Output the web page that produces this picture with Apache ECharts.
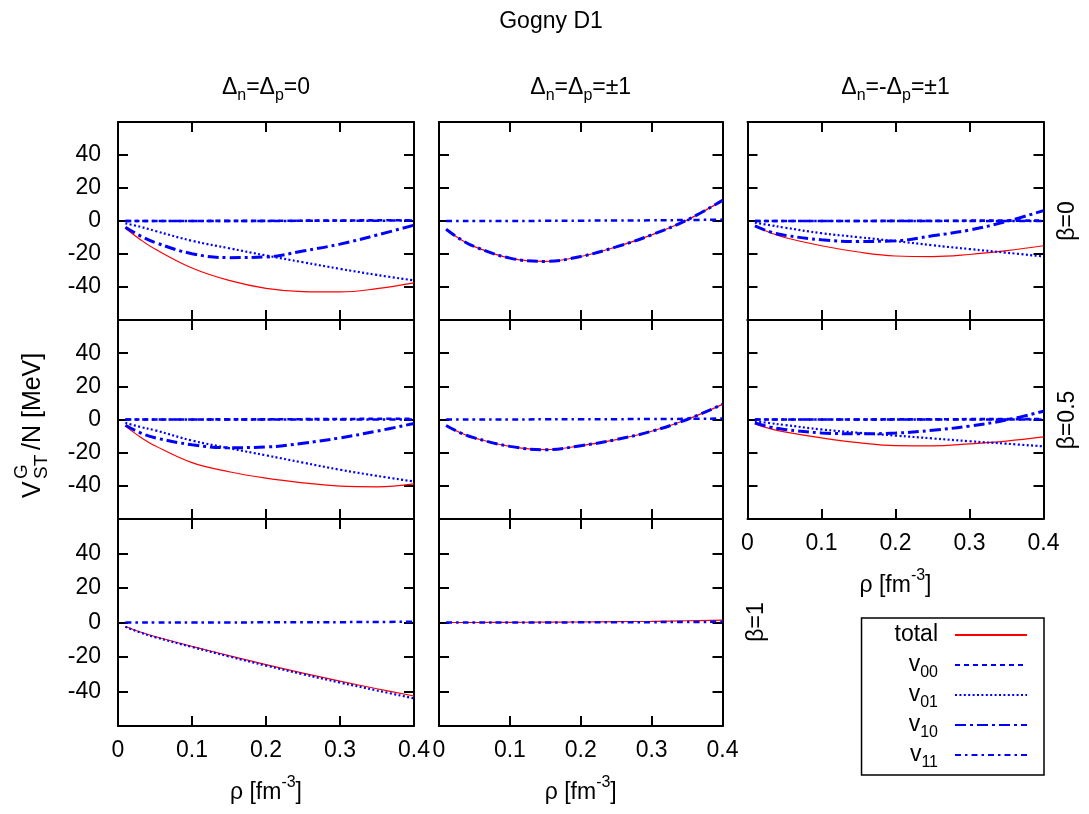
<!DOCTYPE html>
<html><head><meta charset="utf-8">
<script src="https://cdn.jsdelivr.net/npm/echarts@6/dist/echarts.min.js"></script>
<style>html,body{margin:0;padding:0;background:#fff}#c{width:1089px;height:814px}</style>
</head><body><div id="c"></div>
<script>
const FONT = 'Liberation Sans';
// density grid (fm^-3)
const rho = [0.01, 0.03, 0.05, 0.1, 0.15, 0.2, 0.25, 0.3, 0.35, 0.4];
const seriesNames = ['total', 'v00', 'v01', 'v10', 'v11'];
const xTickValues = [0, 0.1, 0.2, 0.3, 0.4];
const xTickLabels = ['0', '0.1', '0.2', '0.3', '0.4'];
const yTickValues = [-40, -20, 0, 20, 40];
const yTickLabels = ['-40', '-20', '0', '20', '40'];
const colTitles = ['Δn=Δp=0', 'Δn=Δp=±1', 'Δn=-Δp=±1'];
const rowTitles = ['β=0', 'β=0.5', 'β=1'];
const NONE = null; // channel absent in this panel

// beta = 0, Δn=Δp=0
const b0_d0_total = [-4.4, -11.2, -17, -28.5, -36, -40.8, -42.8, -43, -41, -37.5];
const b0_d0_v00   = [0, 0, 0, 0, 0.1, 0.1, 0.2, 0.3, 0.4, 0.5];
const b0_d0_v01   = [-1.4, -3.5, -6, -12, -16.5, -20.9, -25, -29, -32.7, -36];
const b0_d0_v10   = [-3.8, -9, -13, -19.8, -22.2, -21.8, -18.2, -14, -8.5, -2.5];
const b0_d0_v11   = [0, 0, 0, 0, 0, 0, 0.1, 0.1, 0.2, 0.3];
// beta = 0, Δn=Δp=±1
const b0_dpp_total = [-5, -11, -15.5, -22.5, -24.5, -21.5, -15.7, -8.4, 0.6, 12.5];
const b0_dpp_v00   = [NONE, NONE, NONE, NONE, NONE, NONE, NONE, NONE, NONE, NONE];
const b0_dpp_v01   = [NONE, NONE, NONE, NONE, NONE, NONE, NONE, NONE, NONE, NONE];
const b0_dpp_v10   = [-5, -11, -15.5, -22.5, -24.5, -21.5, -15.7, -8.4, 0.6, 12.5];
const b0_dpp_v11   = [0, 0, 0, 0, 0.1, 0.2, 0.3, 0.4, 0.6, 0.8];
// beta = 0, Δn=-Δp=±1
const b0_dnp_total = [-3, -7, -10, -15, -18.8, -21.2, -21.6, -20.3, -18, -15];
const b0_dnp_v00   = [0, 0, 0, 0, 0, 0.1, 0.1, 0.2, 0.2, 0.3];
const b0_dnp_v01   = [-1, -2.5, -4, -7.4, -9.8, -12.2, -14.7, -17, -19.2, -21.5];
const b0_dnp_v10   = [-3, -6.5, -8.6, -11.4, -12.4, -12, -9, -5.5, -0.3, 6.3];
const b0_dnp_v11   = [0, 0, 0, 0, 0, 0, 0, 0, 0, 0];
// beta = 0.5, Δn=Δp=0
const b05_d0_total = [-4, -10.5, -15.8, -26, -31.5, -35.4, -38.2, -40.2, -40.6, -38.8];
const b05_d0_v00   = [0, 0, 0, 0, 0.1, 0.1, 0.2, 0.3, 0.4, 0.5];
const b05_d0_v01   = [-2, -4.5, -6.5, -12.7, -17.3, -21.6, -26, -30.3, -34, -37.4];
const b05_d0_v10   = [-3.5, -8, -11, -15.2, -17, -16.6, -14.3, -11.1, -7, -2.4];
const b05_d0_v11   = [0, 0, 0, 0, 0, 0, 0, 0, 0, 0];
// beta = 0.5, Δn=Δp=±1
const b05_dpp_total = [-3.6, -8, -11.1, -16.2, -18.2, -15.8, -12.1, -7.1, 0, 9.1];
const b05_dpp_v00   = [NONE, NONE, NONE, NONE, NONE, NONE, NONE, NONE, NONE, NONE];
const b05_dpp_v01   = [NONE, NONE, NONE, NONE, NONE, NONE, NONE, NONE, NONE, NONE];
const b05_dpp_v10   = [-3.6, -8, -11.1, -16.2, -18.2, -15.8, -12.1, -7.1, 0, 9.1];
const b05_dpp_v11   = [0, 0, 0, 0, 0.1, 0.1, 0.2, 0.3, 0.4, 0.6];
// beta = 0.5, Δn=-Δp=±1
const b05_dnp_total = [-2.6, -5.5, -7.5, -11.1, -14, -15.8, -15.9, -14.7, -13, -10.5];
const b05_dnp_v00   = [0, 0, 0, 0, 0, 0.1, 0.1, 0.2, 0.2, 0.3];
const b05_dnp_v01   = [-1, -2.2, -3.3, -6, -8, -9.7, -11.4, -13.1, -14.6, -16.2];
const b05_dnp_v10   = [-2, -4.5, -6, -8.1, -8.6, -8.2, -6.5, -4, -0.3, 5];
const b05_dnp_v11   = [0, 0, 0, 0, 0, 0, 0, 0, 0, 0];
// beta = 1, Δn=Δp=0
const b1_d0_total = [-2.3, -5.5, -8.1, -13.8, -19.2, -24.4, -29.3, -34, -38.4, -42.6];
const b1_d0_v00   = [NONE, NONE, NONE, NONE, NONE, NONE, NONE, NONE, NONE, NONE];
const b1_d0_v01   = [-2.5, -5.8, -8.5, -14.2, -19.7, -25, -30, -34.8, -39.4, -44];
const b1_d0_v10   = [NONE, NONE, NONE, NONE, NONE, NONE, NONE, NONE, NONE, NONE];
const b1_d0_v11   = [0, 0, 0, 0, 0, 0.1, 0.1, 0.2, 0.3, 0.5];
// beta = 1, Δn=Δp=±1
const b1_dpp_total = [0, 0, 0, 0.1, 0.2, 0.3, 0.5, 0.7, 1.0, 1.4];
const b1_dpp_v00   = [NONE, NONE, NONE, NONE, NONE, NONE, NONE, NONE, NONE, NONE];
const b1_dpp_v01   = [NONE, NONE, NONE, NONE, NONE, NONE, NONE, NONE, NONE, NONE];
const b1_dpp_v10   = [NONE, NONE, NONE, NONE, NONE, NONE, NONE, NONE, NONE, NONE];
const b1_dpp_v11   = [0, 0, 0, 0, 0, 0.1, 0.1, 0.2, 0.3, 0.4];

const panels = [
  {row: 0, col: 0, d: [b0_d0_total, b0_d0_v00, b0_d0_v01, b0_d0_v10, b0_d0_v11]},
  {row: 0, col: 1, d: [b0_dpp_total, b0_dpp_v00, b0_dpp_v01, b0_dpp_v10, b0_dpp_v11]},
  {row: 0, col: 2, d: [b0_dnp_total, b0_dnp_v00, b0_dnp_v01, b0_dnp_v10, b0_dnp_v11]},
  {row: 1, col: 0, d: [b05_d0_total, b05_d0_v00, b05_d0_v01, b05_d0_v10, b05_d0_v11]},
  {row: 1, col: 1, d: [b05_dpp_total, b05_dpp_v00, b05_dpp_v01, b05_dpp_v10, b05_dpp_v11]},
  {row: 1, col: 2, d: [b05_dnp_total, b05_dnp_v00, b05_dnp_v01, b05_dnp_v10, b05_dnp_v11]},
  {row: 2, col: 0, d: [b1_d0_total, b1_d0_v00, b1_d0_v01, b1_d0_v10, b1_d0_v11]},
  {row: 2, col: 1, d: [b1_dpp_total, b1_dpp_v00, b1_dpp_v01, b1_dpp_v10, b1_dpp_v11]}
];

// layout
const colLeft = [118, 439, 747.5], colWidth = [296, 283.5, 296];
const rowTop = [122, 320, 519], rowHeight = [198, 199, 207];
const lineStyles = {
  total: {color: '#ff0000', width: 1.2, type: 'solid'},
  v00: {color: '#0000ff', width: 2.6, type: [5, 4]},
  v01: {color: '#0000ff', width: 2.2, type: [2, 2.4]},
  v10: {color: '#0000ff', width: 3, type: [11, 4, 3, 4]},
  v11: {color: '#0000ff', width: 2.5, type: [6, 4, 2.5, 4]}
};

const grids = [], xAxes = [], yAxes = [], series = [];
const axLine = {show: true, onZero: false, lineStyle: {color: '#000', width: 2}};
const axTick = {show: true, inside: true, length: 10, lineStyle: {color: '#000', width: 2}};
const lblStyle = {color: '#000', fontFamily: FONT, fontSize: 23};

panels.forEach((p, i) => {
  grids.push({left: colLeft[p.col], top: rowTop[p.row], width: colWidth[p.col], height: rowHeight[p.row], containLabel: false});
  const showX = (p.row === 2) || (p.row === 1 && p.col === 2);
  const showY = p.col === 0;
  const xBase = {type: 'value', gridIndex: i, min: 0, max: 0.4, interval: 0.1, splitLine: {show: false},
    axisLine: axLine, axisTick: axTick};
  xAxes.push(Object.assign({}, xBase, {position: 'bottom',
    axisLabel: Object.assign({show: showX, margin: 13, showMinLabel: true, showMaxLabel: true,
      formatter: v => { const k = xTickValues.findIndex(t => Math.abs(t - v) < 1e-9); return k >= 0 ? xTickLabels[k] : ''; }}, lblStyle)}));
  xAxes.push(Object.assign({}, xBase, {position: 'top', axisLabel: {show: false}}));
  const yBase = {type: 'value', gridIndex: i, min: -60, max: 60, interval: 20, splitLine: {show: false},
    axisLine: axLine, axisTick: axTick};
  yAxes.push(Object.assign({}, yBase, {position: 'left',
    axisLabel: Object.assign({show: showY, margin: 17,
      formatter: v => { const k = yTickValues.indexOf(Math.round(v)); return k >= 0 ? yTickLabels[k] : ''; }}, lblStyle)}));
  yAxes.push(Object.assign({}, yBase, {position: 'right', axisLabel: {show: false}}));
  seriesNames.forEach((name, s) => {
    series.push({
      name, type: 'line', xAxisIndex: 2 * i, yAxisIndex: 2 * i,
      data: rho.map((r, k) => [r, p.d[s][k]]),
      smooth: 0.4, symbol: 'none', showSymbol: false, animation: false, connectNulls: false,
      lineStyle: lineStyles[name], itemStyle: {color: lineStyles[name].color},
      emphasis: {disabled: true}, z: 2 + s
    });
  });
});

const subRich = {
  m: {fontFamily: FONT, fontSize: 23, fill: '#000', lineHeight: 24, padding: [0, 0, 6, 0], verticalAlign: 'top'},
  s: {fontFamily: FONT, fontSize: 16, fill: '#000', lineHeight: 16, padding: [12, 0, 0, 0], verticalAlign: 'top'}
};
const supRich = {
  m: {fontFamily: FONT, fontSize: 23, fill: '#000', lineHeight: 24, padding: [6, 0, 0, 0], verticalAlign: 'top'},
  u: {fontFamily: FONT, fontSize: 16, fill: '#000', lineHeight: 16, padding: [0, 0, 0, 0], verticalAlign: 'top'}
};
function colTitleRich(t) {
  const parts = t.split(/(Δ[np])/).filter(x => x.length);
  return parts.map(x => x[0] === 'Δ' && x.length === 2 ? '{m|Δ}{s|' + x[1] + '}' : '{m|' + x + '}').join('');
}
const graphics = [];
graphics.push({type: 'text', x: 551, y: 22, style: {text: 'Gogny D1', fontFamily: FONT, fontSize: 23, fill: '#000', align: 'center', verticalAlign: 'middle'}});
colTitles.forEach((t, c) => {
  graphics.push({type: 'text', x: colLeft[c] + colWidth[c] / 2, y: 88,
    style: {text: colTitleRich(t), rich: subRich, fontFamily: FONT, fontSize: 23, fill: '#000', align: 'center', verticalAlign: 'middle'}});
});
// row labels (rotated)
[[1068, 221, 0], [1068, 420, 1], [757, 622, 2]].forEach(([x, y, r]) => {
  graphics.push({type: 'text', x, y, rotation: Math.PI / 2,
    style: {text: rowTitles[r], fontFamily: FONT, fontSize: 23, fill: '#000', align: 'center', verticalAlign: 'middle'}});
});
// x axis titles
[[266, 726 + 61], [580.75, 726 + 61], [895.5, 519 + 61]].forEach(([x, y]) => {
  graphics.push({type: 'text', x, y,
    style: {text: '{m|ρ [fm}{u|-3}{m|]}', rich: supRich, fontFamily: FONT, fontSize: 23, fill: '#000', align: 'center', verticalAlign: 'middle'}});
});
// y axis title (rotated)
graphics.push({type: 'group', x: 33, y: 498, rotation: Math.PI / 2, children: [
  {type: 'text', x: 0, y: 0, style: {text: 'V', fontFamily: FONT, fontSize: 25, fill: '#000', align: 'left', verticalAlign: 'middle'}},
  {type: 'text', x: 19, y: -11, style: {text: 'G', fontFamily: FONT, fontSize: 19, fill: '#000', align: 'left', verticalAlign: 'middle'}},
  {type: 'text', x: 19, y: 9, style: {text: 'ST', fontFamily: FONT, fontSize: 19, fill: '#000', align: 'left', verticalAlign: 'middle'}},
  {type: 'text', x: 48, y: 0, style: {text: '/N [MeV]', fontFamily: FONT, fontSize: 25, fill: '#000', align: 'left', verticalAlign: 'middle'}}
]});

const legendRich = {
  m: {fontFamily: FONT, fontSize: 23, color: '#000', lineHeight: 24, padding: [0, 0, 6, 0], verticalAlign: 'top'},
  s: {fontFamily: FONT, fontSize: 16, color: '#000', lineHeight: 16, padding: [12, 0, 0, 0], verticalAlign: 'top'}
};

const chart = echarts.init(document.getElementById('c'), null, {renderer: 'canvas'});
chart.setOption({
  backgroundColor: '#fff',
  animation: false,
  textStyle: {fontFamily: FONT},
  grid: grids, xAxis: xAxes, yAxis: yAxes, series,
  legend: {
    data: seriesNames, orient: 'vertical', right: 45, top: 618,
    padding: [5, 16, 3, 33], itemGap: 1, itemWidth: 72, itemHeight: 14, align: 'right',
    borderColor: '#000', borderWidth: 1.5, selectedMode: false,
    itemStyle: {opacity: 0, borderWidth: 0},
    formatter: n => n === 'total' ? '{m|total}' : '{m|v}{s|' + n.slice(1) + '}',
    textStyle: {color: '#000', fontFamily: FONT, fontSize: 23, padding: [0, 12, 0, 0], rich: legendRich}
  },
  graphic: graphics
});
</script></body></html>
